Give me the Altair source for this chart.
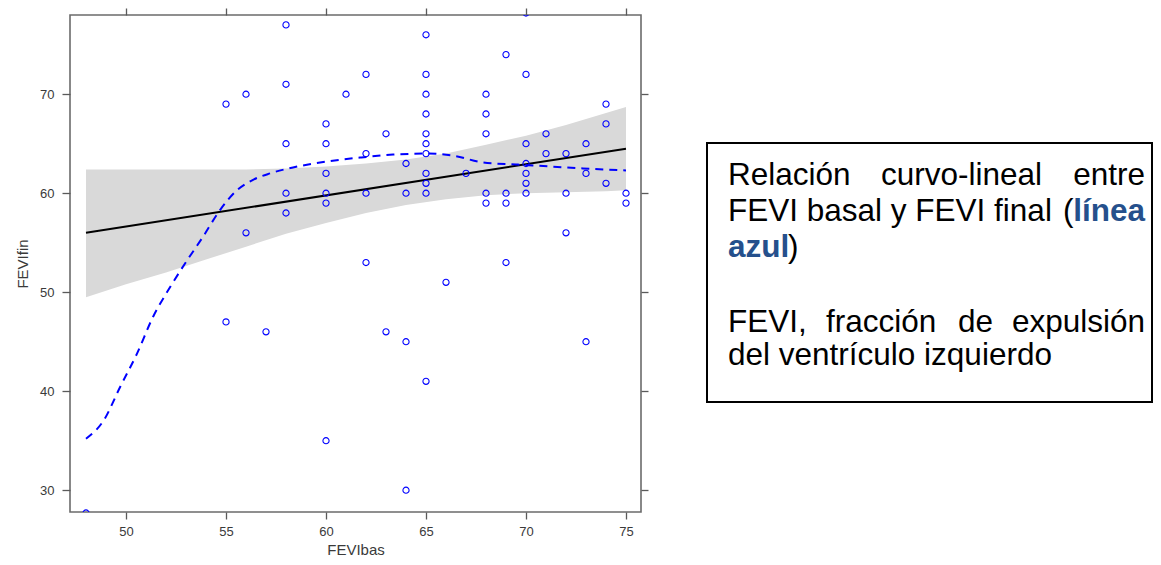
import altair as alt
import pandas as pd

# ---- data ----
FEVIbas = [48,
           55, 55,
           56, 56,
           57,
           58, 58, 58, 58, 58,
           60, 60, 60, 60, 60, 60,
           61,
           62, 62, 62, 62,
           63, 63,
           64, 64, 64, 64,
           65, 65, 65, 65, 65, 65, 65, 65, 65, 65, 65,
           66,
           67,
           68, 68, 68, 68, 68,
           69, 69, 69, 69,
           70, 70, 70, 70, 70, 70, 70,
           71, 71,
           72, 72, 72,
           73, 73, 73,
           74, 74, 74,
           75, 75]
FEVIfin = [27.7,
           69, 47,
           70, 56,
           46,
           77, 71, 65, 60, 58,
           67, 65, 62, 60, 59, 35,
           70,
           72, 64, 60, 53,
           66, 46,
           63, 60, 45, 30,
           76, 72, 70, 68, 66, 65, 64, 62, 61, 60, 41,
           51,
           62,
           70, 68, 66, 60, 59,
           74, 60, 59, 53,
           78.2, 72, 65, 63, 62, 61, 60,
           66, 64,
           64, 60, 56,
           65, 62, 45,
           69, 67, 61,
           60, 59]

# dashed smoother (blue)
loess_x = [48.0, 48.9, 49.7, 50.55, 51.35, 52.2, 53.05, 53.85, 54.7, 55.55, 56.4, 57.2,
           58.35, 60.05, 61.7, 63.35, 65.05, 66.35, 67.85, 69.5, 71.2, 72.85, 75.0]
loess_y = [35.2, 37.1, 40.4, 43.8, 47.5, 50.5, 53.2, 55.6, 58.3, 60.3, 61.4, 62.0,
           62.6, 63.2, 63.6, 63.9, 64.0, 63.8, 63.1, 62.9, 62.7, 62.5, 62.3]

# linear fit (black) and its confidence band (grey)
reg_x = [48, 75]
reg_y = [56.0, 64.5]
band_x = [48, 50, 52, 54, 56, 58, 60, 62, 64, 66, 68, 70, 72, 74, 75]
band_lo = [49.5, 50.8, 52.0, 53.3, 54.6, 55.9, 57.0, 58.0, 58.8, 59.4, 59.8, 60.0, 60.1, 60.2, 60.3]
band_hi = [62.4, 62.4, 62.4, 62.4, 62.4, 62.5, 62.7, 63.0, 63.4, 64.0, 64.9, 65.8, 66.9, 68.1, 68.7]

x_ticks = [50, 55, 60, 65, 70, 75]
y_ticks = [30, 40, 50, 60, 70]
x_domain = [47.2, 75.75]
y_domain = [27.8, 78.0]

x_title = "FEVIbas"
y_title = "FEVIfin"

note_line1 = ["Relación", "curvo-lineal", "entre"]
note_line2 = ["FEVI basal y FEVI final", "(", "línea"]
note_line3 = ["azul", ")"]
note_line5 = ["FEVI,", "fracción", "de", "expulsión"]
note_line6 = ["del ventrículo izquierdo"]

FONT = "Liberation Sans"
BLUE_TXT = "#25508c"
FS = 31.5

xs = alt.Scale(domain=x_domain, nice=False, zero=False)
ys = alt.Scale(domain=y_domain, nice=False, zero=False)

band_df = pd.DataFrame({"x": band_x, "lo": band_lo, "hi": band_hi})
reg_df = pd.DataFrame({"x": reg_x, "y": reg_y})
loess_df = pd.DataFrame({"x": loess_x, "y": loess_y})
pts_df = pd.DataFrame({"FEVIbas": FEVIbas, "FEVIfin": FEVIfin})
one = pd.DataFrame({"k": [0]})

band = alt.Chart(band_df).mark_area(color="#d9d9d9").encode(
    x=alt.X("x:Q", scale=xs,
            axis=alt.Axis(orient="bottom", values=x_ticks, title=x_title,
                          tickSize=7, labelPadding=6, titlePadding=4)),
    y=alt.Y("lo:Q", scale=ys,
            axis=alt.Axis(orient="left", values=y_ticks, title=y_title,
                          tickSize=8, labelPadding=8, titlePadding=9)),
    y2="hi:Q",
)

reg = alt.Chart(reg_df).mark_line(color="black", strokeWidth=2).encode(
    x=alt.X("x:Q", scale=xs,
            axis=alt.Axis(orient="top", values=x_ticks, labels=False, title="", tickSize=7)),
    y=alt.Y("y:Q", scale=ys,
            axis=alt.Axis(orient="right", values=y_ticks, labels=False, title="", tickSize=7)),
)

loess = alt.Chart(loess_df).mark_line(
    color="#0000ff", strokeWidth=2, strokeDash=[8, 6], interpolate="monotone"
).encode(
    x=alt.X("x:Q", scale=xs, axis=None),
    y=alt.Y("y:Q", scale=ys, axis=None),
)

pts = alt.Chart(pts_df).mark_point(
    shape="circle", filled=False, color="#0000ff", size=38, strokeWidth=1.1, clip=True, opacity=1
).encode(
    x=alt.X("FEVIbas:Q", scale=xs, axis=None),
    y=alt.Y("FEVIfin:Q", scale=ys, axis=None),
)

box = alt.Chart(one).mark_rect(fillOpacity=0, stroke="black", strokeWidth=2).encode(
    x=alt.value(637), x2=alt.value(1082), y=alt.value(128), y2=alt.value(387)
)


def txt(s, x, y, align="left", bold=False, color="black"):
    return alt.Chart(one).mark_text(
        text=s, align=align, baseline="alphabetic", font=FONT, fontSize=FS,
        fontWeight="bold" if bold else "normal", color=color
    ).encode(x=alt.value(x), y=alt.value(y))


RIGHT = 1075
texts = [
    txt(note_line1[0], 658, 170),
    txt(note_line1[1], 811, 170),
    txt(note_line1[2], RIGHT, 170, align="right"),
    txt(note_line2[0], 658, 206),
    txt(note_line2[1], 993, 206),
    txt(note_line2[2], RIGHT, 206, align="right", bold=True, color=BLUE_TXT),
    txt(note_line3[0], 658, 242, bold=True, color=BLUE_TXT),
    txt(note_line3[1], 718, 242),
    txt(note_line5[0], 658, 317),
    txt(note_line5[1], 756, 317),
    txt(note_line5[2], 888, 317),
    txt(note_line5[3], RIGHT, 317, align="right"),
    txt(note_line6[0], 658, 350),
]

chart = alt.layer(band, reg, loess, pts, box, *texts).resolve_axis(
    x="independent", y="independent"
).properties(
    width=571, height=497,
    autosize=alt.AutoSizeParams(type="none"),
    padding={"left": 62, "top": 7, "right": 512, "bottom": 45},
).configure_view(
    stroke="#6b6b6b", strokeWidth=1.6
).configure_axis(
    domain=False, grid=False, ticks=True,
    tickColor="#5a5a5a", tickWidth=1.3,
    labelFont=FONT, labelFontSize=13, labelColor="#3a3a3a",
    titleFont=FONT, titleFontSize=15, titleFontWeight="normal", titleColor="#3a3a3a",
)

chart.save("out.html", embed_options={"renderer": "svg", "actions": False})
